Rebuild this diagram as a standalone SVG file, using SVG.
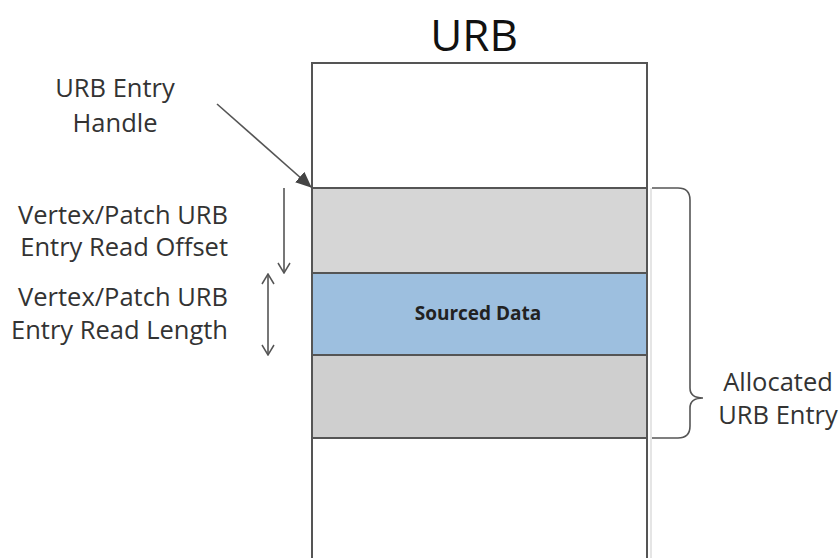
<svg xmlns="http://www.w3.org/2000/svg" width="840" height="558" viewBox="0 0 840 558">
<style>
.lbl{font-family:"Open Sans","Liberation Sans",sans-serif;font-size:25.5px;fill:#333}
.c{text-anchor:middle}
.r{text-anchor:end}
.box{stroke:#555;stroke-width:2}
.ln{stroke:#555;stroke-width:1.6;fill:none}
</style>
<defs>
<marker id="solid" markerWidth="16" markerHeight="14" refX="15" refY="7" orient="auto" markerUnits="userSpaceOnUse" viewBox="0 0 16 14"><path d="M0,0 L16,7 L0,14 Z" fill="#444"/></marker>
<marker id="open" markerWidth="12" markerHeight="14" refX="11" refY="7" orient="auto-start-reverse" markerUnits="userSpaceOnUse" viewBox="0 0 12 14"><path d="M1,1 L11,7 L1,13" fill="none" stroke="#555" stroke-width="1.5"/></marker>
</defs>
<rect width="840" height="558" fill="#fff"/>
<g id="urb">
<text x="474" y="51" style="font-family:'Open Sans','Liberation Sans',sans-serif;font-size:44px;fill:#111;text-anchor:middle">URB</text>
<rect x="312" y="63" width="335" height="500" fill="#fff" class="box"/>
<line x1="651" y1="188" x2="651" y2="558" stroke="#ddd" stroke-width="1.5"/>
</g>
<g id="upper-grey"><rect x="312" y="188" width="335" height="85" fill="#d6d6d6" class="box"/></g>
<g id="sourced-data"><rect x="312" y="273" width="335" height="82" fill="#9dbfdf" class="box"/>
<text x="478" y="320" style="font-family:'Open Sans','Liberation Sans',sans-serif;font-size:19px;font-weight:bold;fill:#222;text-anchor:middle">Sourced Data</text></g>
<g id="lower-grey"><rect x="312" y="355" width="335" height="83" fill="#cfcfcf" class="box"/></g>
<g id="handle-label"><text class="lbl c" x="115" y="97">URB Entry</text><text class="lbl c" x="115" y="132">Handle</text></g>
<g id="offset-label"><text class="lbl r" x="228" y="224">Vertex/Patch URB</text><text class="lbl r" x="228" y="256">Entry Read Offset</text></g>
<g id="length-label"><text class="lbl r" x="228" y="306">Vertex/Patch URB</text><text class="lbl r" x="228" y="339">Entry Read Length</text></g>
<g id="allocated-label"><text class="lbl c" x="778" y="391">Allocated</text><text class="lbl c" x="778" y="424">URB Entry</text></g>
<g id="connectors">
<line class="ln" x1="217" y1="104" x2="311" y2="187" marker-end="url(#solid)" stroke-width="2"/>
<line class="ln" x1="284" y1="188" x2="284" y2="273" marker-end="url(#open)"/>
<line class="ln" x1="268" y1="274" x2="268" y2="355" marker-start="url(#open)" marker-end="url(#open)"/>
<path class="ln" d="M652,188 H678 Q690,188 690,200 V388 Q690,398 703,398 Q690,398 690,408 V426 Q690,438 678,438 H652"/>
</g>
</svg>
